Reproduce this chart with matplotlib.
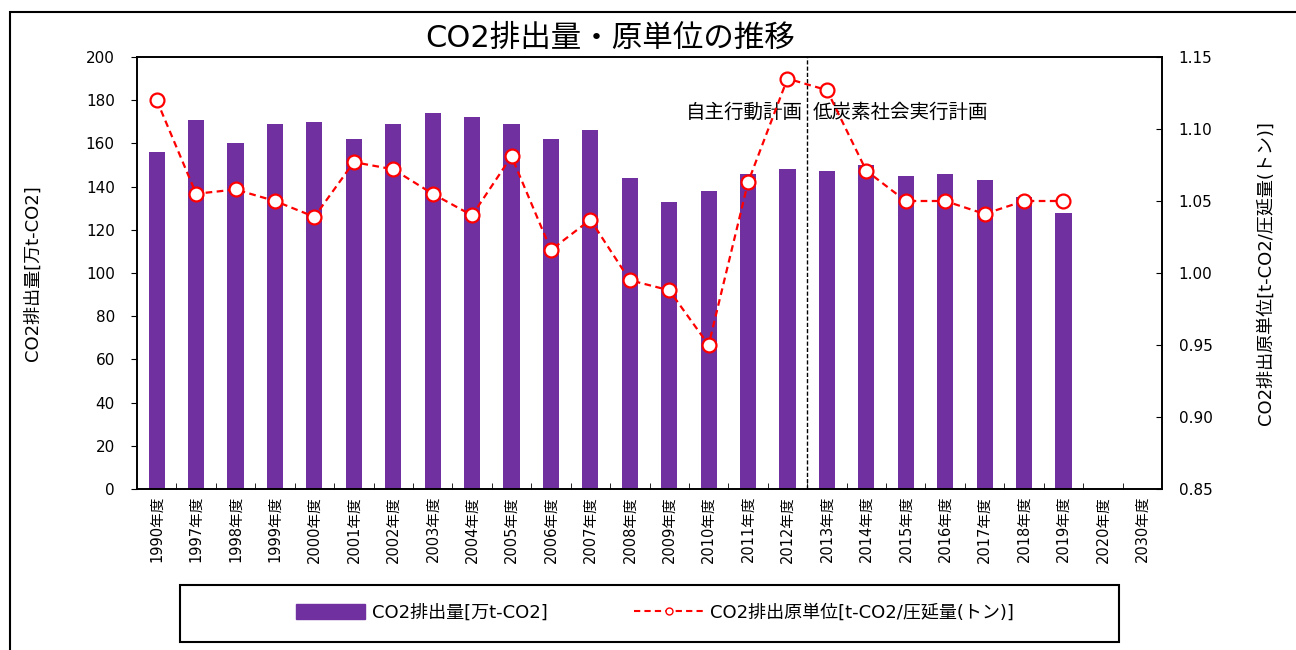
import numpy as np
import matplotlib
matplotlib.use("Agg")
import matplotlib.pyplot as plt
from matplotlib.patches import Rectangle, Patch
from matplotlib.lines import Line2D

plt.rcParams['font.family'] = ['DejaVu Sans', 'Noto Sans CJK JP']

# data
years = ["1990", "1997", "1998", "1999", "2000", "2001", "2002", "2003", "2004",
         "2005", "2006", "2007", "2008", "2009", "2010", "2011", "2012", "2013",
         "2014", "2015", "2016", "2017", "2018", "2019", "2020", "2030"]
emissions = [156, 171, 160, 169, 170, 162, 169, 174, 172, 169, 162, 166, 144,
             133, 138, 146, 148, 147, 150, 145, 146, 143, 135, 128, np.nan, np.nan]
intensity = [1.120, 1.055, 1.058, 1.050, 1.039, 1.077, 1.072, 1.055, 1.040, 1.081,
             1.016, 1.037, 0.995, 0.988, 0.950, 1.063, 1.135, 1.127, 1.071, 1.050,
             1.050, 1.041, 1.050, 1.050, np.nan, np.nan]
tick_labels = [y + "年度" for y in years]

BAR_COLOR = "#7030A0"
LINE_COLOR = "#FF0000"

fig = plt.figure(figsize=(12.96, 6.5), dpi=100)
ax = fig.add_axes([137 / 1296, 1 - 489 / 650, 1025 / 1296, 432 / 650])
ax2 = ax.twinx()

x = np.arange(len(years))
ax.bar(x, emissions, width=0.41, color=BAR_COLOR, zorder=2)
ax2.plot(x, intensity, color=LINE_COLOR, linestyle=(0, (3, 2)), linewidth=1.6,
         marker="o", markersize=10, markerfacecolor="white",
         markeredgecolor=LINE_COLOR, markeredgewidth=1.6, zorder=3)

ax.set_xlim(-0.5, len(years) - 0.5)
ax.set_ylim(0, 200)
ax.set_yticks(np.arange(0, 201, 20))
ax2.set_ylim(0.85, 1.15)
ax2.set_yticks(np.arange(0.85, 1.151, 0.05))
ax2.set_yticklabels([f"{v:.2f}" for v in np.arange(0.85, 1.151, 0.05)])

ax.set_xticks(x)
ax.set_xticklabels(tick_labels, rotation=90, fontsize=10.5)
ax.tick_params(axis="x", which="major", length=0, pad=5)
ax.set_xticks(np.arange(0.5, len(years) - 0.5, 1), minor=True)
ax.tick_params(axis="x", which="minor", direction="in", length=4)
ax.tick_params(axis="y", direction="out", length=4, labelsize=11, pad=12)
ax2.tick_params(axis="y", direction="in", length=4, labelsize=11, pad=12)

for a in (ax, ax2):
    for s in a.spines.values():
        s.set_color("black")
        s.set_linewidth(1.2)

# plan boundary
ax.axvline(16.5, color="black", linestyle=(0, (3, 1.5)), linewidth=1, zorder=4)
ax.text(16.4, 174.5, "自主行動計画", ha="right", va="center", fontsize=14)
ax.text(16.65, 174.5, "低炭素社会実行計画", ha="left", va="center", fontsize=14)

ax.set_ylabel("CO2排出量[万t-CO2]", fontsize=13, labelpad=32)
ax2.set_ylabel("CO2排出原単位[t-CO2/圧延量(トン)]", fontsize=13, labelpad=32)

fig.text(610 / 1296, 1 - 38 / 650, "CO2排出量・原単位の推移", ha="center",
         va="center", fontsize=22)

# outer frame
fig.patches.append(Rectangle((10 / 1296, -0.1), 1.2, 0.1 + 1 - 12 / 650,
                             transform=fig.transFigure, fill=False,
                             edgecolor="black", linewidth=1.5))

# legend box
fig.patches.append(Rectangle((180 / 1296, 1 - 642 / 650), 939 / 1296, 57 / 650,
                             transform=fig.transFigure, fill=False,
                             edgecolor="black", linewidth=1.5))
handles = [Patch(facecolor=BAR_COLOR, edgecolor=BAR_COLOR),
           Line2D([], [], color=LINE_COLOR, linestyle=(0, (3, 2)), linewidth=1.5,
                  marker="o", markersize=5, markerfacecolor="white",
                  markeredgecolor=LINE_COLOR)]
fig.legend(handles, ["CO2排出量[万t-CO2]", "CO2排出原単位[t-CO2/圧延量(トン)]"],
           loc="center", bbox_to_anchor=(655 / 1296, 1 - 613 / 650), ncol=2,
           frameon=False, fontsize=13, handlelength=3.8, handleheight=0.9,
           handletextpad=0.4, columnspacing=4.8)

fig.savefig("out.png", dpi=100)
